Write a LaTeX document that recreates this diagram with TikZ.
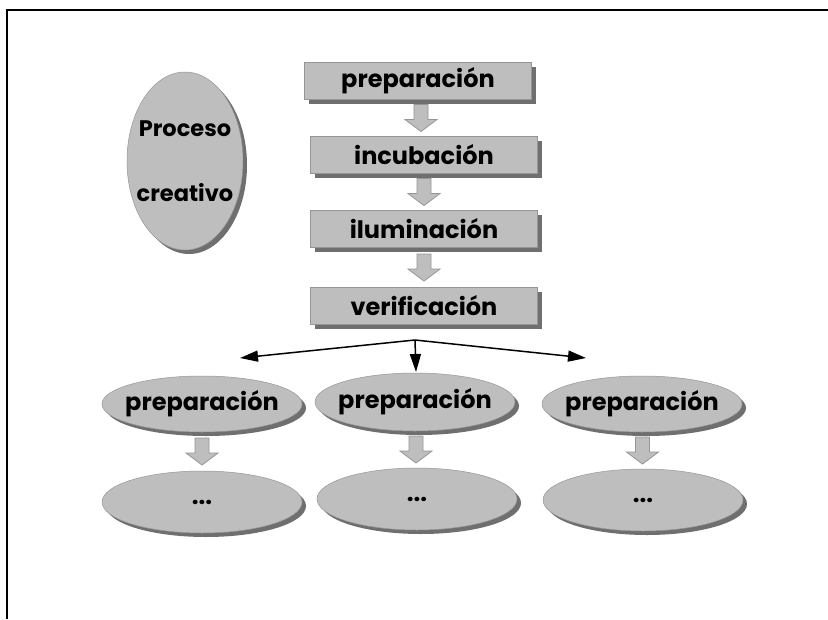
\documentclass[tikz,border=0pt]{standalone}
\usepackage{fontspec}
\setmainfont{Poppins}
\usetikzlibrary{shadows,calc,arrows.meta,shapes.geometric}
\definecolor{boxgray}{RGB}{190,190,190}
\definecolor{edgegray}{RGB}{150,150,150}
\newcommand{\zw}[1]{\makebox[0pt]{#1}}
\tikzset{
  shad/.style={drop shadow={shadow xshift=4pt,shadow yshift=-4pt,fill=black!70,opacity=0.8}},
  stepbox/.style={rectangle,fill=boxgray,draw=edgegray,line width=0.6pt,minimum width=227pt,minimum height=37pt,inner sep=0pt,shad,font=\fontsize{24}{26}\selectfont\bfseries},
  oval/.style={ellipse,fill=boxgray,draw=edgegray,line width=0.5pt,inner sep=0pt,shad,font=\fontsize{24}{26}\selectfont\bfseries},
  fork/.style={line width=1.5pt,-{Triangle[length=18pt,width=11pt]}},
  darrow/.pic={\draw[fill=boxgray,draw=edgegray,line width=0.8pt] (-7,-13.5) -- (7,-13.5) -- (7,1.5) -- (16,1.5) -- (0,13.5) -- (-16,1.5) -- (-7,1.5) -- cycle;}
}
\begin{document}
\begin{tikzpicture}[x=1pt,y=-1pt]
\useasboundingbox (0,0) rectangle (828,619);
\fill[white] (0,0) rectangle (828,619);
\draw[line width=2.8pt,black] (7,619) -- (7,10) -- (828,10);
% big ellipse
\node[oval,minimum width=116pt,minimum height=178pt,align=center,font=\fontsize{22.5}{25}\selectfont\bfseries] (pc) at (185,161) {\zw{Proceso}\\[40pt]\zw{creativo}};
% steps
\node[stepbox] (b1) at (418,81) {preparación};
\node[stepbox] (b2) at (424,155) {incubación};
\node[stepbox] (b3) at (424,229) {iluminación};
\node[stepbox] (b4) at (424,306) {verificación};
\pic at ($(b1.south)!0.5!(b2.north)$) {darrow};
\pic at ($(b2.south)!0.5!(b3.north)$) {darrow};
\pic at ($(b3.south)!0.5!(b4.north)$) {darrow};
% fork
\coordinate (fk) at (415,340);
\coordinate (tl) at (240,358);
\coordinate (tm) at (416,372);
\coordinate (tr) at (586,358);
\draw[fork] (fk) -- (tl);
\draw[fork] (fk) -- (tm);
\draw[fork] (fk) -- (tr);
% lower ellipses
\node[oval,minimum width=200pt,minimum height=56pt] (e1) at (202,404) {\zw{preparación}};
\node[oval,minimum width=200pt,minimum height=58pt] (e2) at (415,402) {\zw{preparación}};
\node[oval,minimum width=200pt,minimum height=56pt] (e3) at (642,404) {\zw{preparación}};
\node[oval,minimum width=200pt,minimum height=62pt] (f1) at (202,502) {\zw{...}};
\node[oval,minimum width=200pt,minimum height=62pt] (f2) at (417,499) {\zw{...}};
\node[oval,minimum width=200pt,minimum height=62pt] (f3) at (643,500) {\zw{...}};
\pic at ($(e1.south)!0.5!(f1.north)$) {darrow};
\pic at ($(e2.south)!0.5!(f2.north)$) {darrow};
\pic at ($(e3.south)!0.5!(f3.north)$) {darrow};
\end{tikzpicture}
\end{document}
